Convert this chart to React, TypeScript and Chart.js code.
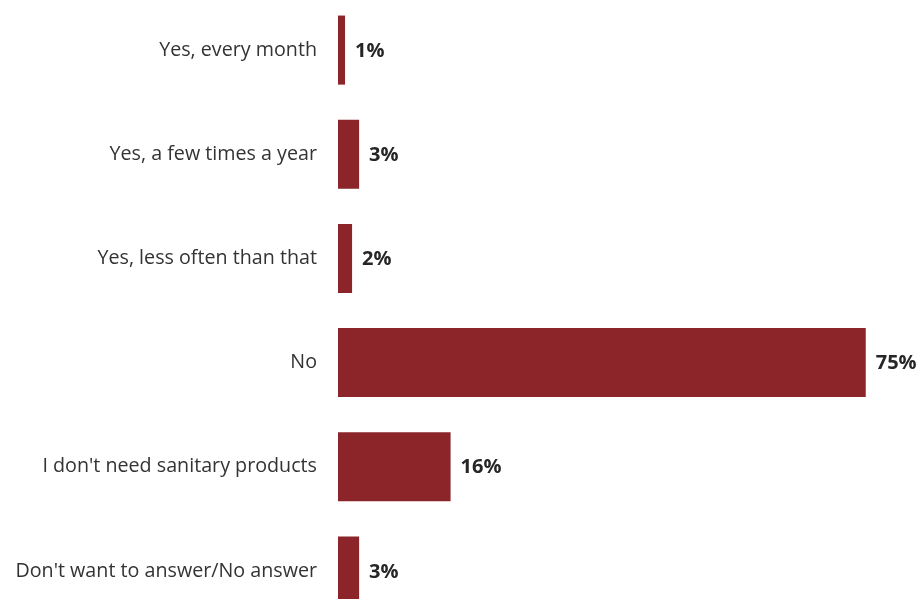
import React, { useEffect, useRef } from "react";
import { Chart, registerables } from "chart.js";

Chart.register(...registerables);

const categories = [
  "Yes, every month",
  "Yes, a few times a year",
  "Yes, less often than that",
  "No",
  "I don't need sanitary products",
  "Don't want to answer/No answer",
];
const values = [1, 3, 2, 75, 16, 3];
const barColor = "#8B2529";
const FONT = "'Open Sans', 'Noto Sans', sans-serif";

const valueLabels = {
  id: "valueLabels",
  afterDatasetsDraw(chart: any) {
    const ctx = chart.ctx;
    const meta = chart.getDatasetMeta(0);
    ctx.save();
    ctx.font = `bold 20px ${FONT}`;
    ctx.fillStyle = "#262626";
    ctx.textAlign = "left";
    ctx.textBaseline = "middle";
    meta.data.forEach((bar: any, i: number) => {
      ctx.fillText(`${values[i]}%`, bar.x + 10, bar.y + 1);
    });
    ctx.restore();
  },
};

export default function App() {
  const ref = useRef<HTMLCanvasElement>(null);
  useEffect(() => {
    document.body.style.margin = "0";
    document.body.style.overflow = "hidden";
    const chart = new Chart(ref.current!, {
      type: "bar",
      data: {
        labels: categories,
        datasets: [
          {
            data: values,
            backgroundColor: barColor,
            barPercentage: 0.663,
            categoryPercentage: 1,
          },
        ],
      },
      options: {
        indexAxis: "y",
        animation: false,
        responsive: true,
        maintainAspectRatio: false,
        layout: { padding: { left: 0, right: 5, top: 0, bottom: 0 } },
        plugins: { legend: { display: false }, tooltip: { enabled: false } },
        scales: {
          x: {
            display: false,
            min: 0,
            max: 82,
          },
          y: {
            grid: { display: false, drawTicks: false },
            border: { display: false },
            ticks: {
              color: "#333333",
              font: { family: FONT, size: 19.7 },
              padding: 21,
            },
            afterFit(scale: any) {
              scale.width = 338;
              scale.paddingTop = 0;
              scale.paddingBottom = 0;
            },
          },
        },
      },
      plugins: [valueLabels],
    });
    return () => chart.destroy();
  }, []);
  return (
    <div style={{ position: "absolute", top: -2, left: 0, width: 920, height: 625 }}>
      <canvas ref={ref} />
    </div>
  );
}
